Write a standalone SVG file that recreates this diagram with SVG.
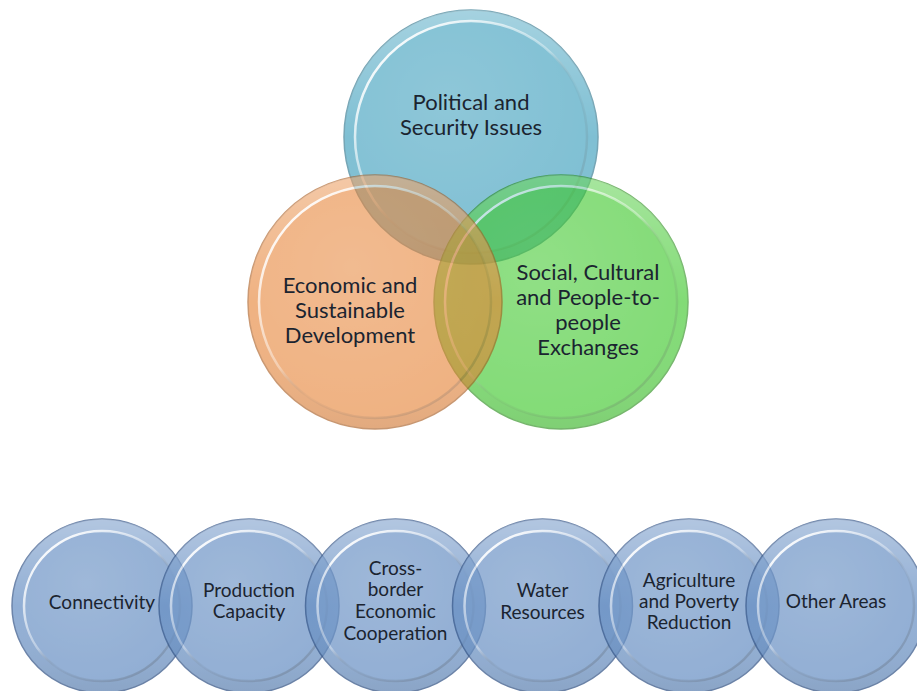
<svg xmlns="http://www.w3.org/2000/svg" width="917" height="691" viewBox="0 0 917 691">
  <defs>
    <linearGradient id="band" x1="0" y1="0" x2="0" y2="1">
      <stop offset="0" stop-color="#ffffff" stop-opacity="0.3"/>
      <stop offset="0.5" stop-color="#ffffff" stop-opacity="0"/>
      <stop offset="1" stop-color="#000000" stop-opacity="0.1"/>
    </linearGradient>
    <linearGradient id="rim" x1="0.15" y1="0.1" x2="0.85" y2="0.9">
      <stop offset="0" stop-color="#ffffff" stop-opacity="0.95"/>
      <stop offset="0.45" stop-color="#ffffff" stop-opacity="0.35"/>
      <stop offset="0.6" stop-color="#000000" stop-opacity="0.05"/>
      <stop offset="1" stop-color="#000000" stop-opacity="0.22"/>
    </linearGradient>
    <radialGradient id="sheen" cx="0.4" cy="0.35" r="0.7">
      <stop offset="0" stop-color="#ffffff" stop-opacity="0.12"/>
      <stop offset="1" stop-color="#ffffff" stop-opacity="0"/>
    </radialGradient>
  </defs>
  <style>
    .venn { opacity: 0.6; }
    .row { opacity: 0.72; }
    .band { fill: url(#band); }
    .sheen { fill: url(#sheen); }
    .rim { fill: none; stroke: url(#rim); stroke-width: 2.5; }
    .blue { fill: #2b96b7; }
    .blue-o { fill: #2b96b7; stroke: #1b6a84; stroke-width: 1.5; }
    .orange { fill: #e67f2f; }
    .orange-o { fill: #e67f2f; stroke: #a85515; stroke-width: 1.5; }
    .green { fill: #30c41c; }
    .green-o { fill: #30c41c; stroke: #1c8a0c; stroke-width: 1.5; }
    .sb { fill: #6890c4; }
    .sb-o { fill: #6890c4; stroke: #34568a; stroke-width: 1.5; }
    text { font-family: Lato, "Liberation Sans", sans-serif; fill: #1b2430; text-anchor: middle; }
    .big { font-size: 22px; }
    .small { font-size: 19px; }
  </style>

  <g id="n-political">
    <g class="venn">
      <circle class="blue-o" cx="471" cy="137" r="127"/>
      <circle class="band" cx="471" cy="137" r="127"/>
      <circle class="blue" cx="471" cy="137" r="116"/>
      <circle class="sheen" cx="471" cy="137" r="116"/>
      <circle class="rim" cx="471" cy="137" r="116"/>
    </g>
  </g>
  <g id="n-social">
    <g class="venn">
      <circle class="green-o" cx="561" cy="302" r="127"/>
      <circle class="band" cx="561" cy="302" r="127"/>
      <circle class="green" cx="561" cy="302" r="116"/>
      <circle class="sheen" cx="561" cy="302" r="116"/>
      <circle class="rim" cx="561" cy="302" r="116"/>
    </g>
  </g>
  <g id="n-economic">
    <g class="venn">
      <circle class="orange-o" cx="375" cy="302" r="127"/>
      <circle class="band" cx="375" cy="302" r="127"/>
      <circle class="orange" cx="375" cy="302" r="116"/>
      <circle class="sheen" cx="375" cy="302" r="116"/>
      <circle class="rim" cx="375" cy="302" r="116"/>
    </g>
  </g>
  <g id="venn-labels">
    <text class="big"><tspan x="471" y="110">Political and</tspan><tspan x="471" y="135">Security Issues</tspan></text>
    <text class="big"><tspan x="350" y="293">Economic and</tspan><tspan x="350" y="318">Sustainable</tspan><tspan x="350" y="343">Development</tspan></text>
    <text class="big"><tspan x="588" y="280">Social, Cultural</tspan><tspan x="588" y="305">and People-to-</tspan><tspan x="588" y="330">people</tspan><tspan x="588" y="355">Exchanges</tspan></text>
  </g>

  <g id="n-connectivity">
    <g class="row">
      <ellipse class="sb-o" cx="102" cy="606" rx="90" ry="87"/>
      <ellipse class="band" cx="102" cy="606" rx="90" ry="87"/>
      <ellipse class="sb" cx="102" cy="606" rx="78" ry="75"/>
      <ellipse class="sheen" cx="102" cy="606" rx="78" ry="75"/>
      <ellipse class="rim" cx="102" cy="606" rx="78" ry="75"/>
    </g>
    <text class="small" x="102" y="609">Connectivity</text>
  </g>
  <g id="n-production">
    <g class="row">
      <ellipse class="sb-o" cx="249" cy="606" rx="90" ry="87"/>
      <ellipse class="band" cx="249" cy="606" rx="90" ry="87"/>
      <ellipse class="sb" cx="249" cy="606" rx="78" ry="75"/>
      <ellipse class="sheen" cx="249" cy="606" rx="78" ry="75"/>
      <ellipse class="rim" cx="249" cy="606" rx="78" ry="75"/>
    </g>
    <text class="small"><tspan x="249" y="597">Production</tspan><tspan x="249" y="618">Capacity</tspan></text>
  </g>
  <g id="n-crossborder">
    <g class="row">
      <ellipse class="sb-o" cx="395.5" cy="606" rx="90" ry="87"/>
      <ellipse class="band" cx="395.5" cy="606" rx="90" ry="87"/>
      <ellipse class="sb" cx="395.5" cy="606" rx="78" ry="75"/>
      <ellipse class="sheen" cx="395.5" cy="606" rx="78" ry="75"/>
      <ellipse class="rim" cx="395.5" cy="606" rx="78" ry="75"/>
    </g>
    <text class="small"><tspan x="395.5" y="575">Cross-</tspan><tspan x="395.5" y="596">border</tspan><tspan x="395.5" y="618">Economic</tspan><tspan x="395.5" y="640">Cooperation</tspan></text>
  </g>
  <g id="n-water">
    <g class="row">
      <ellipse class="sb-o" cx="542.5" cy="606" rx="90" ry="87"/>
      <ellipse class="band" cx="542.5" cy="606" rx="90" ry="87"/>
      <ellipse class="sb" cx="542.5" cy="606" rx="78" ry="75"/>
      <ellipse class="sheen" cx="542.5" cy="606" rx="78" ry="75"/>
      <ellipse class="rim" cx="542.5" cy="606" rx="78" ry="75"/>
    </g>
    <text class="small"><tspan x="542.5" y="597">Water</tspan><tspan x="542.5" y="619">Resources</tspan></text>
  </g>
  <g id="n-agriculture">
    <g class="row">
      <ellipse class="sb-o" cx="689" cy="606" rx="90" ry="87"/>
      <ellipse class="band" cx="689" cy="606" rx="90" ry="87"/>
      <ellipse class="sb" cx="689" cy="606" rx="78" ry="75"/>
      <ellipse class="sheen" cx="689" cy="606" rx="78" ry="75"/>
      <ellipse class="rim" cx="689" cy="606" rx="78" ry="75"/>
    </g>
    <text class="small"><tspan x="689" y="587">Agriculture</tspan><tspan x="689" y="608">and Poverty</tspan><tspan x="689" y="629">Reduction</tspan></text>
  </g>
  <g id="n-other">
    <g class="row">
      <ellipse class="sb-o" cx="836" cy="606" rx="90" ry="87"/>
      <ellipse class="band" cx="836" cy="606" rx="90" ry="87"/>
      <ellipse class="sb" cx="836" cy="606" rx="78" ry="75"/>
      <ellipse class="sheen" cx="836" cy="606" rx="78" ry="75"/>
      <ellipse class="rim" cx="836" cy="606" rx="78" ry="75"/>
    </g>
    <text class="small" x="836" y="608">Other Areas</text>
  </g>

  <g id="connectors"/>
</svg>
